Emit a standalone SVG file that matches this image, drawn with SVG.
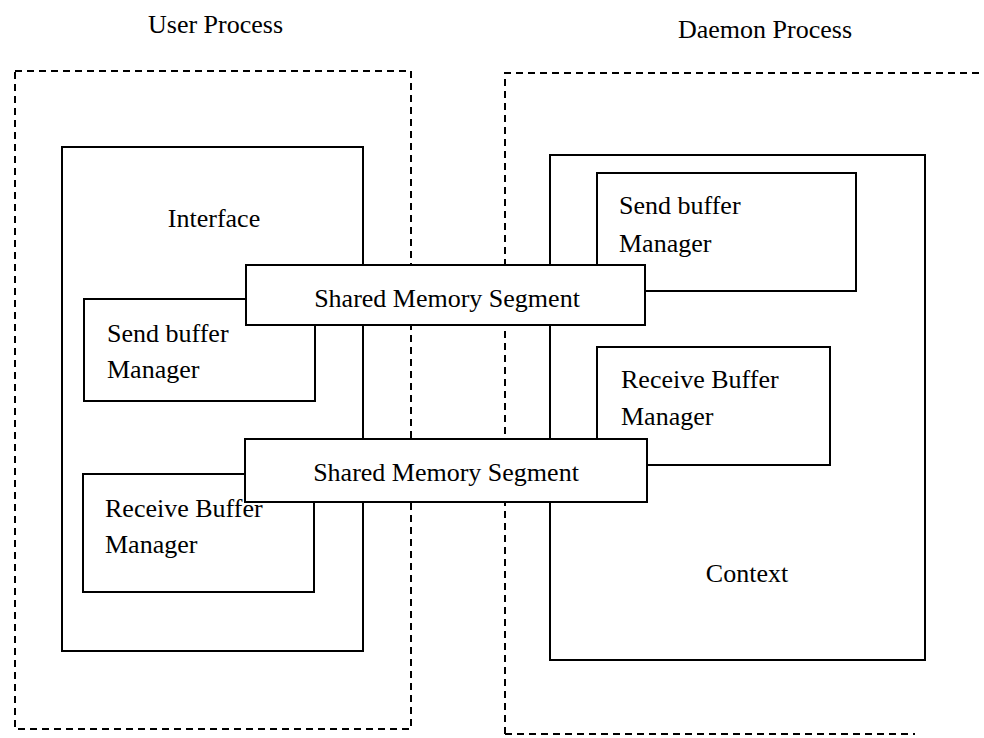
<svg xmlns="http://www.w3.org/2000/svg" width="984" height="738" viewBox="0 0 984 738">
  <style>
    .proc { fill: none; stroke: #000; stroke-width: 2; stroke-dasharray: 7 5; }
    .box { fill: #fff; stroke: #000; stroke-width: 2; }
    .lbl { font-family: "Liberation Serif", "Times New Roman", serif; font-size: 26px; fill: #000; }
    .mid { text-anchor: middle; }
  </style>
  <rect width="984" height="738" fill="#fff"/>

  <!-- process boundaries -->
  <g id="user-process">
    <rect class="proc" x="15" y="71" width="396" height="658"/>
    <text class="lbl" x="148" y="33">User Process</text>
  </g>
  <g id="daemon-process">
    <path class="proc" d="M505,734 V73 H984 M505,734 H915"/>
    <text class="lbl" x="678" y="38">Daemon Process</text>
  </g>

  <!-- user side -->
  <g id="interface">
    <rect class="box" x="62" y="147" width="301" height="504"/>
    <text class="lbl mid" x="214" y="227">Interface</text>
  </g>
  <g id="user-send-buffer">
    <rect class="box" x="84" y="299" width="231" height="102"/>
    <text class="lbl" x="107" y="342">Send buffer</text>
    <text class="lbl" x="107" y="378">Manager</text>
  </g>
  <g id="user-receive-buffer">
    <rect class="box" x="83" y="474" width="231" height="118"/>
    <text class="lbl" x="105" y="517">Receive Buffer</text>
    <text class="lbl" x="105" y="553">Manager</text>
  </g>

  <!-- daemon side -->
  <g id="context">
    <rect class="box" x="550" y="155" width="375" height="505"/>
    <text class="lbl mid" x="747" y="582">Context</text>
  </g>
  <g id="daemon-send-buffer">
    <rect class="box" x="597" y="173" width="259" height="118"/>
    <text class="lbl" x="619" y="214">Send buffer</text>
    <text class="lbl" x="619" y="252">Manager</text>
  </g>
  <g id="daemon-receive-buffer">
    <rect class="box" x="597" y="347" width="233" height="118"/>
    <text class="lbl" x="621" y="388">Receive Buffer</text>
    <text class="lbl" x="621" y="425">Manager</text>
  </g>

  <!-- shared segments bridging both processes -->
  <g id="connectors">
    <g id="shm-send">
      <rect class="box" x="246" y="265" width="399" height="60"/>
      <text class="lbl mid" x="447" y="307">Shared Memory Segment</text>
    </g>
    <g id="shm-receive">
      <rect class="box" x="245" y="439" width="402" height="63"/>
      <text class="lbl mid" x="446" y="481">Shared Memory Segment</text>
    </g>
  </g>
</svg>
